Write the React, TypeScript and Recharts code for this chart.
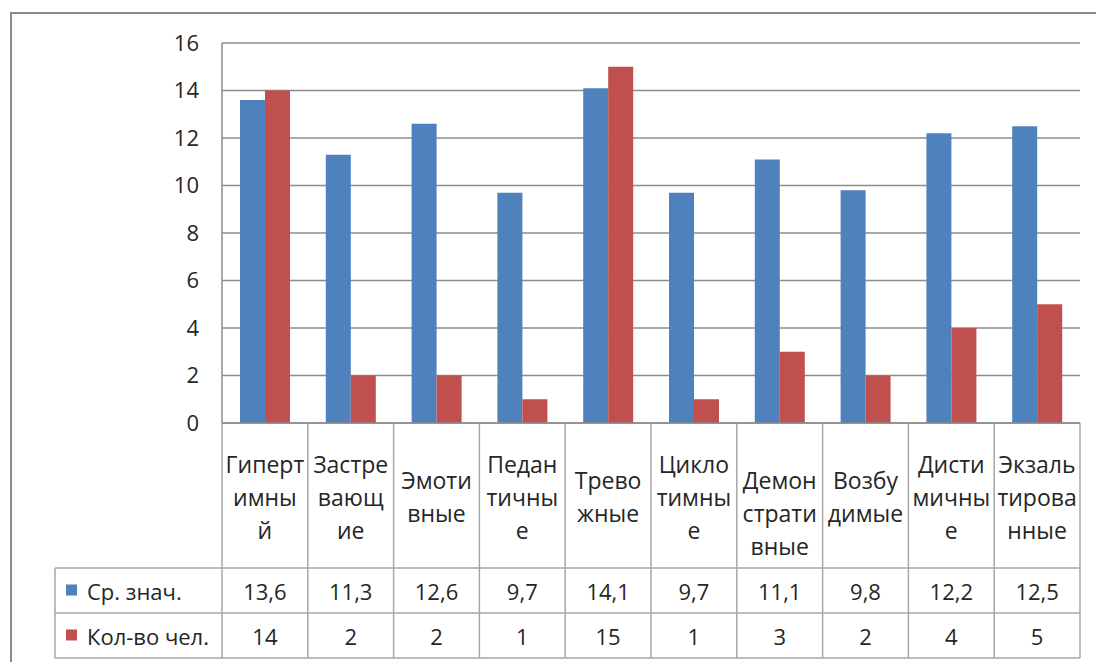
import React from "react";
import { Bar, BarChart, CartesianGrid, XAxis, YAxis } from "recharts";

// categories (line breaks as in the original table cells)
const categories = [
  "Гиперт\nимны\nй",
  "Застре\nвающ\nие",
  "Эмоти\nвные",
  "Педан\nтичны\nе",
  "Трево\nжные",
  "Цикло\nтимны\nе",
  "\nДемон\nстрати\nвные",
  "Возбу\nдимые",
  "Дисти\nмичны\nе",
  "Экзаль\nтирова\nнные",
];
const avgValues = [13.6, 11.3, 12.6, 9.7, 14.1, 9.7, 11.1, 9.8, 12.2, 12.5];
const countValues = [14, 2, 2, 1, 15, 1, 3, 2, 4, 5];
const seriesNames = ["Ср. знач.", "Кол-во чел."];
const yTicks = [0, 2, 4, 6, 8, 10, 12, 14, 16];

const data = categories.map((name, i) => ({
  name,
  avg: avgValues[i],
  count: countValues[i],
}));

const W = 1096;
const H = 662;
const PLOT_LEFT = 222;
const PLOT_RIGHT = 1080;
const PLOT_TOP = 43;
const PLOT_BOTTOM = 423;
const COL_W = (PLOT_RIGHT - PLOT_LEFT) / categories.length;
const LEGEND_LEFT = 55;
const LABEL_H = 145;
const ROW_H = 45;
const LINE_H = 33;

const BLUE = "#4F81BD";
const RED = "#C0504D";
const BORDER = "#a6a6a6";
const TEXT = "#262626";
const FONT = "'Open Sans', sans-serif";
const FS = 22;
const FS_CAT = 23;

const fmt = (v: number) => String(v).replace(".", ",");

function TableTick(props: any) {
  const { x, y, payload } = props;
  const idx = payload?.index ?? props.index ?? 0;
  const lines = String(payload.value).split("\n");
  const left = x - COL_W / 2;
  const right = x + COL_W / 2;
  const row1 = y + LABEL_H;
  const row2 = row1 + ROW_H;
  const row3 = row2 + ROW_H;
  const mid = y + LABEL_H / 2 + 1;
  const startY = mid - ((lines.length - 1) * LINE_H) / 2;

  return (
    <g>
      {lines.map((ln, k) => (
        <text
          key={k}
          x={x}
          y={startY + k * LINE_H}
          textAnchor="middle"
          dominantBaseline="central"
          fontSize={FS_CAT}
          fontFamily={FONT}
          fill={TEXT}
        >
          {ln}
        </text>
      ))}
      <text x={x} y={row1 + ROW_H / 2} textAnchor="middle" dominantBaseline="central" fontSize={FS} fontFamily={FONT} fill={TEXT}>
        {fmt(avgValues[idx])}
      </text>
      <text x={x} y={row2 + ROW_H / 2} textAnchor="middle" dominantBaseline="central" fontSize={FS} fontFamily={FONT} fill={TEXT}>
        {fmt(countValues[idx])}
      </text>
      <line x1={right} y1={y} x2={right} y2={row3} stroke={BORDER} strokeWidth={1.5} />
      {idx === 0 && (
        <g>
          <line x1={left} y1={y} x2={left} y2={row3} stroke={BORDER} strokeWidth={1.5} />
          <line x1={LEGEND_LEFT} y1={row1} x2={LEGEND_LEFT} y2={row3} stroke={BORDER} strokeWidth={1.5} />
          <line x1={LEGEND_LEFT} y1={row1} x2={PLOT_RIGHT} y2={row1} stroke={BORDER} strokeWidth={1.5} />
          <line x1={LEGEND_LEFT} y1={row2} x2={PLOT_RIGHT} y2={row2} stroke={BORDER} strokeWidth={1.5} />
          <line x1={LEGEND_LEFT} y1={row3} x2={PLOT_RIGHT} y2={row3} stroke={BORDER} strokeWidth={1.5} />
          {[BLUE, RED].map((c, k) => (
            <g key={k}>
              <rect x={66} y={row1 + k * ROW_H + ROW_H / 2 - 6} width={11} height={11} fill={c} />
              <text
                x={87}
                y={row1 + k * ROW_H + ROW_H / 2}
                dominantBaseline="central"
                fontSize={FS}
                fontFamily={FONT}
                fill={TEXT}
              >
                {seriesNames[k]}
              </text>
            </g>
          ))}
        </g>
      )}
    </g>
  );
}

export default function App() {
  return (
    <div
      style={{
        position: "absolute",
        left: 0,
        top: 0,
        width: W,
        height: H,
        overflow: "hidden",
        background: "#fff",
      }}
    >
      <div
        style={{
          position: "absolute",
          left: 10,
          top: 12,
          width: W + 20,
          height: H + 20,
          borderLeft: "2px solid #8c8c8c",
          borderTop: "2px solid #8c8c8c",
        }}
      />
      <div style={{ position: "absolute", left: 0, top: 0 }}>
        <BarChart
          width={W}
          height={H}
          data={data}
          margin={{ top: PLOT_TOP, right: W - PLOT_RIGHT, bottom: 0, left: 0 }}
          barCategoryGap={18}
          barGap={0}
        >
          <CartesianGrid vertical={false} stroke="#8c8c8c" strokeWidth={1.5} />
          <XAxis
            dataKey="name"
            height={H - PLOT_BOTTOM}
            interval={0}
            tickLine={false}
            tickSize={0}
            tickMargin={0}
            axisLine={{ stroke: "#8c8c8c", strokeWidth: 1.5 }}
            tick={<TableTick />}
          />
          <YAxis
            width={PLOT_LEFT}
            domain={[0, 16]}
            ticks={yTicks}
            interval={0}
            tickLine={false}
            tickSize={0}
            tickMargin={23}
            axisLine={{ stroke: "#8c8c8c", strokeWidth: 1.5 }}
            tick={{ fontSize: FS, fontFamily: FONT, fill: TEXT }}
          />
          <Bar dataKey="avg" name={seriesNames[0]} fill={BLUE} isAnimationActive={false} />
          <Bar dataKey="count" name={seriesNames[1]} fill={RED} isAnimationActive={false} />
        </BarChart>
      </div>
    </div>
  );
}
